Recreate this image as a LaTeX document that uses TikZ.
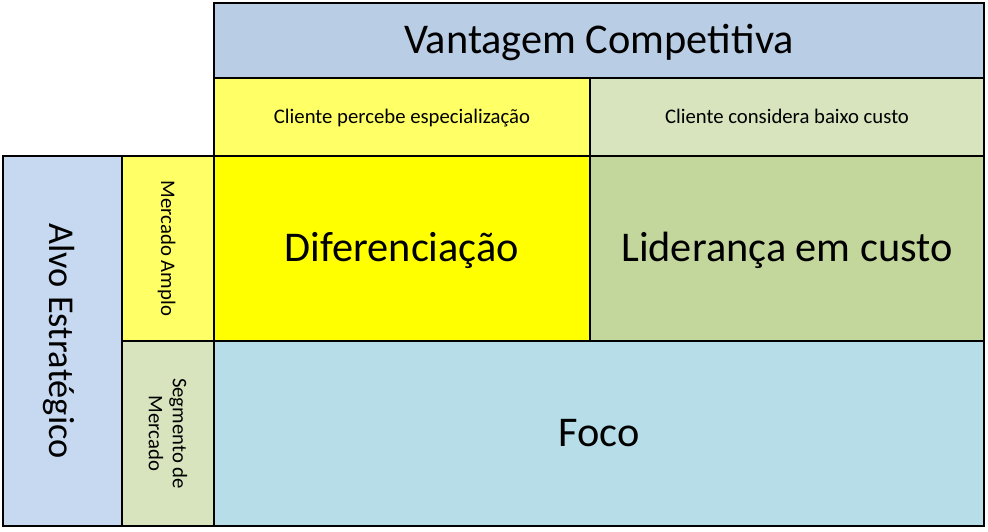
\documentclass[tikz,border=0pt]{standalone}
\usepackage{fontspec}
\setmainfont{Carlito}
\definecolor{hdrblue}{HTML}{B9CDE5}
\definecolor{lightyel}{HTML}{FFFF66}
\definecolor{lightgrn}{HTML}{D7E4BD}
\definecolor{leftblue}{HTML}{C6D9F1}
\definecolor{fullyel}{HTML}{FFFF00}
\definecolor{midgrn}{HTML}{C3D69B}
\definecolor{focblue}{HTML}{B7DEE8}
\tikzset{
  cell/.style={draw=black, line width=2.6bp, inner sep=0pt, outer sep=0pt, text=black, align=center},
  bigtxt/.style={font=\fontsize{42.5}{50}\selectfont, text height=34bp, text depth=7.6bp},
  smalltxt/.style={font=\fontsize{20.8}{24}\selectfont, text height=17bp, text depth=3bp},
  twoline/.style={font=\fontsize{20.8}{24}\selectfont},
  sidetxt/.style={font=\fontsize{36.5}{44}\selectfont, text height=33bp, text depth=6bp},
}
\begin{document}
\begin{tikzpicture}[x=1bp,y=-1bp]
\useasboundingbox (0,0) rectangle (988,532);
\node[cell, bigtxt, fill=hdrblue, minimum width=770bp, minimum height=75bp] (vc) at (599,40.5) {Vantagem Competitiva};
\node[cell, smalltxt, fill=lightyel, minimum width=376bp, minimum height=78bp] (cp) at (402,117) {Cliente percebe especialização};
\node[cell, smalltxt, fill=lightgrn, minimum width=394bp, minimum height=78bp] (cb) at (787,117) {Cliente considera baixo custo};
\node[cell, bigtxt, fill=fullyel, minimum width=376bp, minimum height=185bp] (dif) at (402,248.5) {Diferenciação};
\node[cell, bigtxt, fill=midgrn, minimum width=394bp, minimum height=185bp] (lid) at (787,248.5) {Liderança em custo};
\node[cell, bigtxt, fill=focblue, minimum width=770bp, minimum height=185bp] (foc) at (599,433.5) {Foco};
\node[cell, sidetxt, fill=leftblue, rotate=-90, minimum width=370bp, minimum height=119bp] (ae) at (62.5,341) {Alvo Estratégico};
\node[cell, smalltxt, fill=lightyel, rotate=-90, minimum width=185bp, minimum height=92bp] (ma) at (168,248.5) {Mercado Amplo};
\node[cell, twoline, fill=lightgrn, rotate=-90, minimum width=185bp, minimum height=92bp] (sm) at (168,433.5) {Segmento de\\Mercado};
\end{tikzpicture}
\end{document}
